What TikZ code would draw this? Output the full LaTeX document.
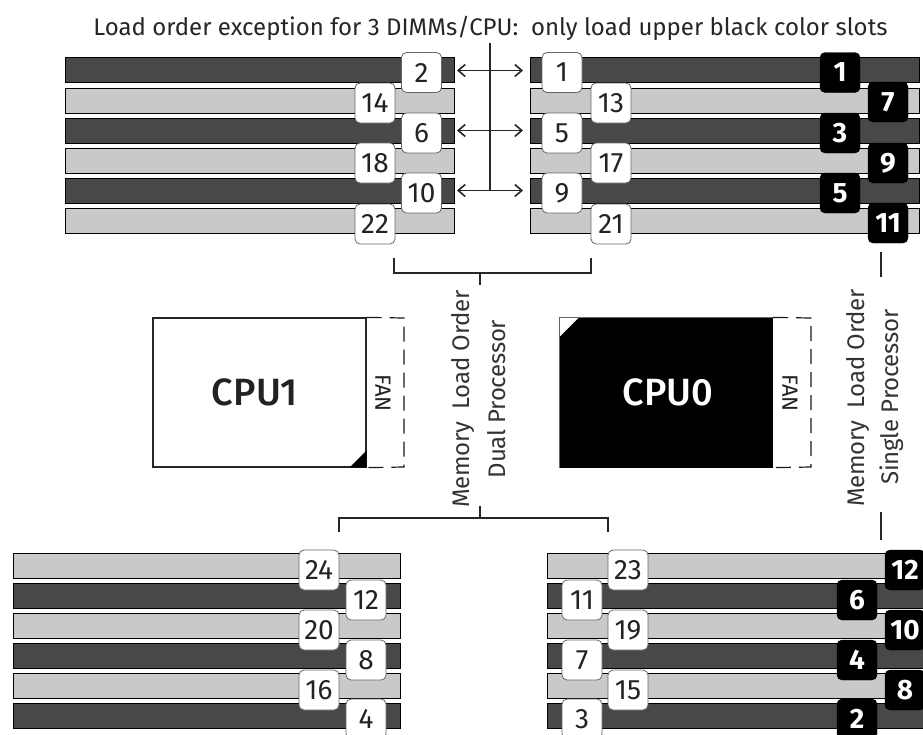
\documentclass[tikz,border=0pt]{standalone}
\usepackage{fontspec}
\setmainfont{Fira Sans}
\newfontfamily\medfont{Fira Sans Medium}
\usetikzlibrary{arrows.meta}
\definecolor{darkslot}{HTML}{484848}
\definecolor{lightslot}{HTML}{C9C9C9}
\definecolor{inktxt}{HTML}{222222}
\tikzset{
  slot/.style={draw=black,line width=1.1pt,inner sep=0pt,anchor=north west,minimum height=25pt},
  darkrow/.style={slot,fill=darkslot},
  lightrow/.style={slot,fill=lightslot},
  badge/.style={draw=black!60,line width=0.8pt,fill=white,rounded corners=5pt,minimum width=40pt,minimum height=40pt,inner sep=0pt,font=\fontsize{28}{28}\selectfont,text=inktxt},
  blackbadge/.style={draw=black,fill=black,rounded corners=5pt,minimum width=40pt,minimum height=40pt,inner sep=0pt,font=\fontsize{28}{28}\selectfont\bfseries,text=white},
  link/.style={draw=black!85,line width=1.1pt},
  both/.style={link,line width=1.4pt,{Straight Barb[length=7pt,width=12pt,line width=1.6pt]}-{Straight Barb[length=7pt,width=12pt,line width=1.6pt]}},
  fanline/.style={draw=black!90,line width=1.2pt,dash pattern=on 15pt off 8pt},
  cpubox/.style={draw=black!85,line width=1.2pt,minimum width=213pt,minimum height=149pt,inner sep=0pt},
  cputext/.style={font=\medfont\fontsize{38}{38}\selectfont},
  fantext/.style={font=\fontsize{22}{22}\selectfont,rotate=-90,text=inktxt},
  sidetext/.style={font=\fontsize{24}{24}\selectfont\addfontfeatures{LetterSpace=-1},rotate=90,text=black!80},
  toptext/.style={font=\fontsize{24}{24}\selectfont,text=black!85},
}
\begin{document}
\begin{tikzpicture}[x=1pt,y=-1pt]
\useasboundingbox (0,0) rectangle (923,734);
\clip (0,0) rectangle (923,734);
\fill[white] (0,0) rectangle (923,734);
\node[toptext] (title) at (490.5,28) {Load order exception for 3 DIMMs/CPU:\ \ only load upper black color slots};
% upper banks
\foreach \n/\y/\st in {a/57/darkrow,b/88/lightrow,c/118/darkrow,d/148/lightrow,e/178/darkrow,f/208/lightrow}{
  \node[\st,minimum width=389pt] (ul\n) at (65,\y) {};
  \node[\st,minimum width=389pt] (ur\n) at (530,\y) {};
}
% lower banks
\foreach \n/\y/\st in {a/553/lightrow,b/583/darkrow,c/613/lightrow,d/643/darkrow,e/673/lightrow,f/703/darkrow}{
  \node[\st,minimum width=387pt] (ll\n) at (13,\y) {};
  \node[\st,minimum width=380pt] (lr\n) at (547,\y) {};
}
% white badges
\foreach \t/\x/\y in {2/421.5/72.5,14/375/103,6/421.5/133,18/375/163,10/421.5/193,22/375/224,
  1/562/72.5,13/611/103,5/562/133,17/611/163,9/562/193,21/611/224}{
  \node[badge] (u\t) at (\x,\y) {\t};
}
\foreach \t/\x/\y in {24/319/570,12/366/600,20/319/630,8/366/660,16/319/690,4/366/719,
  23/628/570,11/582/600,19/628/630,7/582/660,15/628/690,3/582/719}{
  \node[badge] (l\t) at (\x,\y) {\t};
}
% black badges
\foreach \t/\x/\y in {1/840/72.5,7/888/102,3/840/133,9/888/163,5/840/193,11/888/223,
  12/905/570,6/857/600,10/905/630,4/857/660,8/905/690,2/857/719}{
  \node[blackbadge] (b\t) at (\x,\y) {\t};
}
% arrows across the centre
\coordinate (vtop) at (490,43);
\coordinate (vbot) at (490,190.5);
\draw[link] (vtop) -- (vbot);
\foreach \n/\y in {a/70.5,c/130.5,e/190.5}{
  \coordinate (al\n) at (457,\y);
  \coordinate (ar\n) at (523,\y);
  \draw[both] (al\n) -- (ar\n);
}
% CPUs
\node[cpubox,fill=white] (cpu1) at (259.5,392.5) {};
\node[cputext,text=inktxt] (cpu1t) at (255,392) {CPU1};
\node[cpubox,fill=black,draw=black] (cpu0) at (666,392.5) {};
\node[cputext,text=white] (cpu0t) at (668,392) {CPU0};
\fill[black] (cpu1.south east) -- ++(-17,0) -- ++(17,-17) -- cycle;
\fill[white] (cpu0.north west) -- ++(20,0) -- ++(-20,20) -- cycle;
\draw[black!60,line width=0.8pt] (cpu0.south west) |- (cpu0.north east);
% fans
\coordinate (fan1a) at (404,318); \coordinate (fan1b) at (404,467);
\coordinate (fan0a) at (811,318); \coordinate (fan0b) at (811,467);
\draw[fanline] (cpu1.north east) -- (fan1a) -- (fan1b) -- (cpu1.south east);
\draw[fanline] (cpu0.north east) -- (fan0a) -- (fan0b) -- (cpu0.south east);
\node[fantext] (fan1) at (383,393) {FAN};
\node[fantext] (fan0) at (790,393) {FAN};
% side labels
\node[sidetext] (dual1) at (463,399) {Memory\ \ Load Order};
\node[sidetext] (dual2) at (497,399) {Dual Processor};
\node[sidetext] (sing1) at (858,398) {Memory\ \ Load Order};
\node[sidetext] (sing2) at (892,397) {Single Processor};
% brackets
\coordinate (bt1) at (394,258); \coordinate (bt2) at (394,273);
\coordinate (bt3) at (591,273); \coordinate (bt4) at (591,258);
\coordinate (bts) at (480,273); \coordinate (bte) at (480,285);
\draw[link] (bt1) -- (bt2) -- (bt3) -- (bt4);
\draw[link] (bts) -- (bte);
\coordinate (bb1) at (339,532); \coordinate (bb2) at (339,518);
\coordinate (bb3) at (608,518); \coordinate (bb4) at (608,532);
\coordinate (bbs) at (480,518); \coordinate (bbe) at (480,506);
\draw[link] (bb1) -- (bb2) -- (bb3) -- (bb4);
\draw[link] (bbs) -- (bbe);
\coordinate (s1) at (881,252); \coordinate (s2) at (881,277);
\coordinate (s3) at (881,512); \coordinate (s4) at (881,540);
\draw[link] (s1) -- (s2);
\draw[link] (s3) -- (s4);
\end{tikzpicture}
\end{document}
